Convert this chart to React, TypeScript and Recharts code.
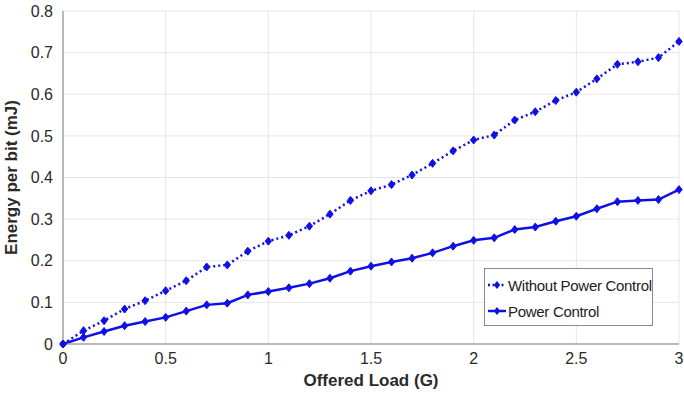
import React from "react";
import { LineChart, Line, XAxis, YAxis, CartesianGrid } from "recharts";

const loads = [
  0, 0.1, 0.2, 0.3, 0.4, 0.5, 0.6, 0.7, 0.8, 0.9, 1.0, 1.1, 1.2, 1.3, 1.4, 1.5,
  1.6, 1.7, 1.8, 1.9, 2.0, 2.1, 2.2, 2.3, 2.4, 2.5, 2.6, 2.7, 2.8, 2.9, 3.0,
];

const withoutPowerControl = [
  0, 0.032, 0.056, 0.084, 0.104, 0.128, 0.152, 0.185, 0.19, 0.223, 0.247,
  0.261, 0.283, 0.312, 0.345, 0.368, 0.383, 0.406, 0.434, 0.464, 0.49, 0.502,
  0.538, 0.558, 0.585, 0.605, 0.637, 0.672, 0.678, 0.688, 0.727,
];

const powerControl = [
  0, 0.016, 0.03, 0.044, 0.054, 0.064, 0.079, 0.094, 0.098, 0.118, 0.126,
  0.135, 0.145, 0.158, 0.175, 0.187, 0.197, 0.206, 0.219, 0.235, 0.249, 0.255,
  0.275, 0.281, 0.295, 0.307, 0.325, 0.342, 0.345, 0.347, 0.371,
];

const xTicks = [0, 0.5, 1, 1.5, 2, 2.5, 3];
const yTicks = [0, 0.1, 0.2, 0.3, 0.4, 0.5, 0.6, 0.7, 0.8];

const BLUE = "#1010e6";
const FONT = "'Liberation Sans', Arial, sans-serif";

const data = loads.map((g, i) => ({
  g,
  without: withoutPowerControl[i],
  power: powerControl[i],
}));

const Diamond = (props: any) => {
  const { cx, cy } = props;
  if (cx == null || cy == null) return null;
  const r = 4;
  return (
    <polygon
      points={`${cx},${cy - r} ${cx + r * 0.8},${cy} ${cx},${cy + r} ${cx - r * 0.8},${cy}`}
      fill={BLUE}
      stroke={BLUE}
      strokeWidth={1}
    />
  );
};

// legend box drawn as a plain overlay, sits in the lower right of the plot
const LegendBox = () => (
  <div
    style={{
      position: "absolute",
      left: 484,
      top: 268,
      width: 169,
      height: 58,
      border: "1px solid #8a8a8a",
      background: "#fff",
      fontFamily: FONT,
      fontSize: 15,
      color: "#222",
      boxSizing: "border-box",
      padding: "3px 0 0 2px",
      whiteSpace: "nowrap",
    }}
  >
    <div style={{ display: "flex", alignItems: "center", height: 26 }}>
      <svg width={20} height={10}>
        <line x1={1} y1={5} x2={19} y2={5} stroke={BLUE} strokeWidth={2.5} strokeDasharray="2 2.5" />
        <polygon points="10,1 13.2,5 10,9 6.8,5" fill={BLUE} />
      </svg>
      <span style={{ marginLeft: 1, letterSpacing: -0.3 }}>Without Power Control</span>
    </div>
    <div style={{ display: "flex", alignItems: "center", height: 26 }}>
      <svg width={20} height={10}>
        <line x1={1} y1={5} x2={19} y2={5} stroke={BLUE} strokeWidth={2.5} />
        <polygon points="10,1 13.2,5 10,9 6.8,5" fill={BLUE} />
      </svg>
      <span style={{ marginLeft: 1, letterSpacing: -0.3 }}>Power Control</span>
    </div>
  </div>
);

export default function App() {
  return (
    <div style={{ position: "absolute", left: 0, top: 0, width: 684, height: 403, background: "#fff" }}>
      <LineChart
        width={684}
        height={403}
        data={data}
        margin={{ top: 11, right: 5, bottom: 17, left: 33 }}
      >
        <CartesianGrid stroke="#e6e6e6" strokeWidth={1} />
        <XAxis
          dataKey="g"
          type="number"
          domain={[0, 3]}
          ticks={xTicks}
          tickFormatter={(v: number) => String(v)}
          height={42}
          stroke="#808080"
          tickLine={false}
          tickMargin={3}
          tick={{ fontSize: 16, fill: "#2a2a2a", fontFamily: FONT }}
          label={{
            value: "Offered Load (G)",
            position: "insideBottom",
            offset: 0,
            fontSize: 17,
            fontWeight: "bold",
            fill: "#2a2a2a",
            fontFamily: FONT,
          }}
        />
        <YAxis
          type="number"
          domain={[0, 0.8]}
          ticks={yTicks}
          tickFormatter={(v: number) => String(v)}
          width={30}
          stroke="#808080"
          tickLine={false}
          tickMargin={4}
          tick={{ fontSize: 16, fill: "#2a2a2a", fontFamily: FONT }}
          label={{
            value: "Energy per bit (mJ)",
            angle: -90,
            position: "insideLeft",
            offset: -22,
            style: { textAnchor: "middle" },
            fontSize: 17,
            fontWeight: "bold",
            fill: "#2a2a2a",
            fontFamily: FONT,
          }}
        />
        <Line
          type="linear"
          dataKey="without"
          name="Without Power Control"
          stroke={BLUE}
          strokeWidth={2.5}
          strokeDasharray="2 3"
          dot={<Diamond />}
          activeDot={false}
          isAnimationActive={false}
        />
        <Line
          type="linear"
          dataKey="power"
          name="Power Control"
          stroke={BLUE}
          strokeWidth={2.5}
          dot={<Diamond />}
          activeDot={false}
          isAnimationActive={false}
        />
      </LineChart>
      <LegendBox />
    </div>
  );
}
